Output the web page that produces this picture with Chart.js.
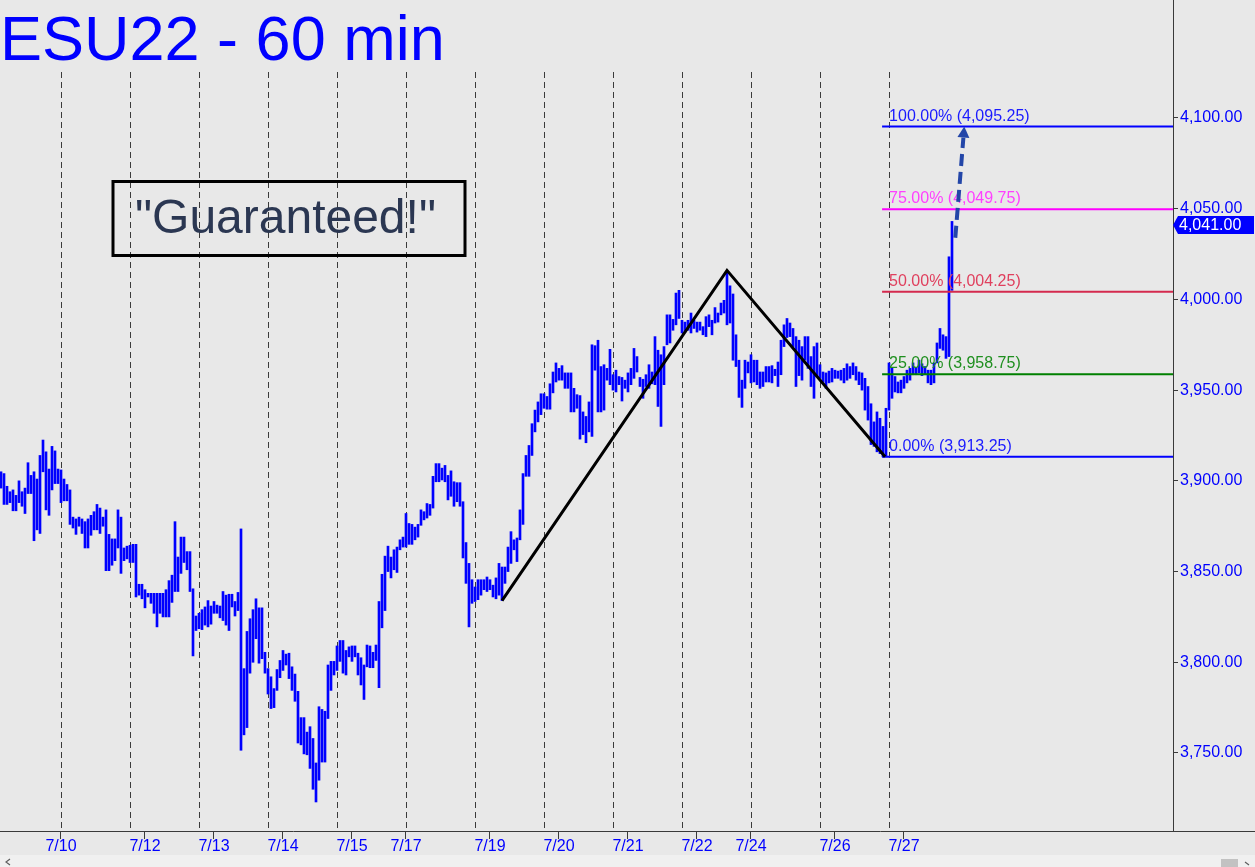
<!DOCTYPE html>
<html>
<head>
<meta charset="utf-8">
<script src="https://cdn.jsdelivr.net/npm/chart.js@4.4.1/dist/chart.umd.min.js"></script>
<style>
  html, body { margin: 0; padding: 0; background: #e8e8e8; }
  canvas { display: block; }
</style>
</head>
<body>
<canvas id="esChart" width="1255" height="867"></canvas>
<script>
// hourly bar highs / lows, one entry per bar (index = bar number)
const highs = [
  3905, 3904, 3897, 3894, 3895, 3892, 3900, 3894, 3896, 3910,
  3903, 3905, 3901, 3914, 3922.5, 3916, 3906.5, 3919, 3916.5, 3906.5,
  3906, 3901, 3898, 3895, 3880, 3879, 3880, 3879, 3877.5, 3879,
  3881, 3883, 3887, 3885, 3880, 3884, 3870.5, 3868, 3868, 3884,
  3880, 3863, 3864, 3864.5, 3865, 3865, 3843, 3843, 3840, 3838,
  3838, 3838, 3838, 3838, 3838, 3840, 3845, 3848, 3877.5, 3858,
  3869, 3869, 3861, 3861, 3840.5, 3825.5, 3827, 3829, 3830.5, 3834,
  3831, 3833.5, 3831.5, 3831, 3839, 3837, 3837.5, 3837.5, 3833.5, 3838.5,
  3873.5, 3796.5, 3817, 3824, 3829, 3835, 3830, 3830, 3805.5, 3796.5,
  3792, 3785.5, 3796, 3801, 3806.5, 3804.5, 3805, 3797.5, 3793.5, 3784,
  3769.5, 3769.5, 3761.5, 3764.5, 3758, 3744.5, 3775.5, 3774, 3773, 3798.5,
  3800.5, 3800.5, 3809, 3812, 3812, 3806.5, 3808.5, 3809, 3809, 3805,
  3802.5, 3798.5, 3809.5, 3809, 3805.5, 3809.5, 3833.5, 3848.5, 3858.5, 3864,
  3858, 3862, 3863.5, 3867.5, 3869, 3882, 3876.5, 3876, 3874.5, 3876,
  3884, 3883, 3887.5, 3887, 3902.5, 3909.5, 3909.5, 3907, 3908.5, 3903,
  3905.5, 3899.5, 3899, 3899, 3888.5, 3866, 3854.5, 3845.5, 3841.5, 3845.5,
  3845.5, 3845.5, 3847, 3845.5, 3842.5, 3846.5, 3854.5, 3852.5, 3852.5, 3863.5,
  3872, 3867.5, 3868.5, 3884, 3904, 3914, 3919.5, 3931.5, 3939, 3943.5,
  3948, 3948, 3946.5, 3953.5, 3960, 3965, 3962, 3963.5, 3959.5, 3959.5,
  3959.5, 3951, 3947.5, 3947, 3938, 3935.5, 3943.5, 3975, 3974.5, 3977.5,
  3963, 3964, 3962, 3972.5, 3958.5, 3961, 3957.5, 3957, 3955.5, 3959.5,
  3962, 3973, 3968.5, 3957, 3956, 3958.5, 3964, 3960, 3979.5, 3972,
  3969.5, 3974, 3991.5, 3991.5, 3989, 4003.5, 4005, 3988.5, 3987.5, 3988.5,
  3992.5, 3988.5, 3987.5, 3987.5, 3985, 3990.5, 3991.5, 3988.5, 3995.5, 3992.5,
  3998, 3999.5, 4014.5, 4007.5, 4003, 3980.5, 3966.5, 3955.5, 3966.5, 3965.5,
  3969.5, 3966.5, 3966.5, 3960, 3960, 3963, 3963, 3963.5, 3961.5, 3965.5,
  3977.5, 3986, 3989.5, 3987, 3984, 3979.5, 3977.5, 3974, 3979.5, 3979.5,
  3968.5, 3974, 3976, 3964, 3960, 3959.5, 3960.5, 3962, 3961, 3960.5,
  3961, 3962, 3964.5, 3963, 3965, 3963, 3960, 3959.5, 3956.5, 3952,
  3942.5, 3932.5, 3938, 3934.5, 3930, 3940, 3965, 3962.5, 3957.5, 3954.5,
  3955.5, 3957.5, 3961, 3962, 3965, 3962.5, 3966.5, 3964.5, 3963, 3961,
  3961, 3965, 3976, 3984, 3980.5, 3979.5, 4023.5, 4043
];
const lows = [
  3896, 3887, 3887, 3888, 3883.5, 3883.5, 3888, 3886, 3882, 3893,
  3893, 3867, 3873, 3871, 3905, 3884, 3881, 3895, 3898.5, 3898.5,
  3888, 3889, 3889, 3876, 3874, 3870.5, 3875, 3871, 3863, 3863,
  3870, 3873, 3873, 3871, 3875, 3850.5, 3850.5, 3853.5, 3856, 3863,
  3849, 3856, 3857, 3855, 3855, 3836, 3837, 3835, 3830, 3836,
  3832.5, 3827, 3819.5, 3827, 3825, 3825, 3825, 3833, 3839, 3839,
  3849, 3855, 3851, 3839, 3803.5, 3817.5, 3818.5, 3818, 3820.5, 3819.5,
  3821, 3827, 3827, 3824.5, 3823, 3820.5, 3817.5, 3830.5, 3825.5, 3828.5,
  3751.5, 3760, 3764, 3794, 3800, 3813, 3799.5, 3802, 3794, 3782.5,
  3774.5, 3775, 3784.5, 3791.5, 3795.5, 3798.5, 3791, 3784.5, 3778.5, 3755.5,
  3754.5, 3749.5, 3749, 3741.5, 3730, 3723, 3735, 3745, 3745, 3769,
  3784.5, 3793, 3795.5, 3800.5, 3794, 3793, 3803, 3800.5, 3803, 3793,
  3787.5, 3779.5, 3797.5, 3797, 3797, 3801, 3786, 3819, 3828.5, 3850,
  3846.5, 3851, 3849.5, 3862, 3863.5, 3863.5, 3865, 3865, 3867.5, 3869,
  3875.5, 3878.5, 3879.5, 3881, 3885, 3899.5, 3899.5, 3900.5, 3899.5, 3889.5,
  3891.5, 3886, 3888.5, 3886, 3857.5, 3843.5, 3819.5, 3832.5, 3833.5, 3834.5,
  3837, 3840, 3839, 3840, 3836, 3835, 3837, 3834, 3843.5, 3850,
  3854.5, 3862, 3855.5, 3867.5, 3876, 3902.5, 3902.5, 3914, 3927, 3932.5,
  3936.5, 3940, 3939.5, 3939.5, 3948.5, 3954.5, 3955.5, 3955.5, 3951, 3951,
  3938, 3938, 3940, 3923, 3925.5, 3921, 3927, 3924.5, 3961, 3938,
  3938, 3939, 3955.5, 3953, 3950, 3949, 3953, 3944, 3951, 3949,
  3953, 3956.5, 3960, 3952, 3945.5, 3952, 3951, 3953.5, 3953, 3941,
  3930, 3953, 3975, 3976, 3983, 3986, 3989.5, 3981.5, 3982, 3983,
  3981.5, 3984, 3982, 3983, 3980.5, 3979.5, 3985, 3980.5, 3987, 3987.5,
  3991.5, 3992.5, 3986, 3987, 3966.5, 3963, 3946, 3940.5, 3951, 3959.5,
  3954, 3954.5, 3953, 3951, 3952, 3954.5, 3954.5, 3954, 3958, 3952,
  3958.5, 3974, 3979, 3979.5, 3974, 3952, 3958, 3955.5, 3966.5, 3962,
  3952, 3945.5, 3957.5, 3956.5, 3954.5, 3951, 3954, 3954.5, 3956.5, 3956.5,
  3955.5, 3954, 3955.5, 3956.5, 3958.5, 3955.5, 3953, 3950, 3939, 3933.5,
  3920, 3919, 3916, 3915, 3913.25, 3913.5, 3939, 3945.5, 3949, 3948.5,
  3948.5, 3951, 3954, 3955.5, 3958.5, 3958.5, 3959.5, 3958, 3958.5, 3954,
  3953, 3954, 3965, 3973, 3972, 3967.5, 3968.5, 4005
];

// session separators and date labels (bar numbers)
const dayLines = [20, 43, 66, 89, 112, 135, 158, 181, 204, 227, 250, 273, 296];
const dateTicks = [20, 48, 71, 94, 117, 135, 163, 186, 209, 232, 250, 278, 301];
const dateLabels = ["7/10", "7/12", "7/13", "7/14", "7/15", "7/17", "7/19", "7/20", "7/21", "7/22", "7/24", "7/26", "7/27"];
const priceTicks = [3750, 3800, 3850, 3900, 3950, 4000, 4050, 4100];

// fibonacci levels
const fibPct = ["0.00%", "25.00%", "50.00%", "75.00%", "100.00%"];
const fibPrice = [3913.25, 3958.75, 4004.25, 4049.75, 4095.25];

// ABC swing line and projected arrow
const swingBar = [167, 242, 294.7];
const swingPrice = [3834, 4016, 3913.25];
const arrowBar = [318.1, 321.1];
const arrowPrice = [4034, 4095.25];
const lastPrice = 4041;

const BLUE = "#0000ff";
const fibLineColors = ["#0000ff", "#008000", "#d42a4e", "#ff00ff", "#0000ff"];
const fibTextColors = ["#1a1aff", "#1f8f1f", "#e0405e", "#ff40ff", "#1a1aff"];
const FONT = "Liberation Sans, Arial, sans-serif";
const X_MIN = -1 / 3, X_MAX = 390.67, FIB_START = 293.7;

function fmt(v) {
  return v.toLocaleString("en-US", { minimumFractionDigits: 2, maximumFractionDigits: 2 });
}

const decor = {
  id: "decor",
  beforeDraw(chart) {
    const ctx = chart.ctx;
    ctx.save();
    ctx.fillStyle = "#e8e8e8";
    ctx.fillRect(0, 0, chart.width, chart.height);
    ctx.restore();
  },
  beforeDatasetsDraw(chart) {
    const ctx = chart.ctx, xs = chart.scales.x, area = chart.chartArea;
    ctx.save();
    ctx.strokeStyle = "#3a3a3a";
    ctx.lineWidth = 1;
    ctx.setLineDash([6, 4]);
    dayLines.forEach(d => {
      const px = Math.round(xs.getPixelForValue(d)) + 0.5;
      ctx.beginPath();
      ctx.moveTo(px, 72);
      ctx.lineTo(px, area.bottom);
      ctx.stroke();
    });
    ctx.restore();
  },
  afterDatasetsDraw(chart) {
    const ctx = chart.ctx, xs = chart.scales.x, ys = chart.scales.y;
    ctx.save();
    // fib labels
    ctx.font = "16px " + FONT;
    ctx.textBaseline = "alphabetic";
    ctx.textAlign = "left";
    const fx = xs.getPixelForValue(FIB_START) + 7;
    fibPrice.forEach((p, i) => {
      ctx.fillStyle = fibTextColors[i];
      ctx.fillText(fibPct[i] + " (" + fmt(p) + ")", fx, ys.getPixelForValue(p) - 6);
    });

    // dashed projection arrow
    const x0 = xs.getPixelForValue(arrowBar[0]), y0 = ys.getPixelForValue(arrowPrice[0]);
    const x1 = xs.getPixelForValue(arrowBar[1]), y1 = ys.getPixelForValue(arrowPrice[1]);
    const len = Math.hypot(x1 - x0, y1 - y0), ux = (x1 - x0) / len, uy = (y1 - y0) / len;
    const bx = x1 - ux * 11, by = y1 - uy * 11;
    ctx.strokeStyle = "#2346a8";
    ctx.fillStyle = "#2346a8";
    ctx.lineWidth = 4;
    ctx.setLineDash([12, 6]);
    ctx.beginPath();
    ctx.moveTo(x0, y0);
    ctx.lineTo(bx, by);
    ctx.stroke();
    ctx.setLineDash([]);
    ctx.beginPath();
    ctx.moveTo(x1, y1);
    ctx.lineTo(bx - uy * 6, by + ux * 6);
    ctx.lineTo(bx + uy * 6, by - ux * 6);
    ctx.closePath();
    ctx.fill();
    ctx.restore();
  },
  afterDraw(chart) {
    const ctx = chart.ctx, ys = chart.scales.y, area = chart.chartArea;
    ctx.save();
    // title
    ctx.fillStyle = BLUE;
    ctx.font = "63px " + FONT;
    ctx.textAlign = "left";
    ctx.textBaseline = "alphabetic";
    ctx.fillText("ESU22 - 60 min", 0, 60);

    // comment box
    ctx.strokeStyle = "#000";
    ctx.lineWidth = 3;
    ctx.strokeRect(113, 181.5, 352, 74);
    ctx.fillStyle = "#2b3752";
    ctx.font = "48px " + FONT;
    ctx.fillText("\"Guaranteed!\"", 135, 233);

    // bottom axis line across full width
    ctx.strokeStyle = "#3a3a3a";
    ctx.lineWidth = 1;
    ctx.beginPath();
    ctx.moveTo(area.right, Math.round(area.bottom) + 0.5);
    ctx.lineTo(chart.width, Math.round(area.bottom) + 0.5);
    ctx.stroke();

    // last price tag
    const ty = ys.getPixelForValue(lastPrice);
    ctx.fillStyle = BLUE;
    ctx.beginPath();
    ctx.moveTo(area.right, ty);
    ctx.lineTo(area.right + 5, ty - 9);
    ctx.lineTo(chart.width - 1, ty - 9);
    ctx.lineTo(chart.width - 1, ty + 9);
    ctx.lineTo(area.right + 5, ty + 9);
    ctx.closePath();
    ctx.fill();
    ctx.fillStyle = "#ffffff";
    ctx.font = "16px " + FONT;
    ctx.textBaseline = "middle";
    ctx.fillText(fmt(lastPrice), area.right + 6, ty + 1);

    // scroll bar strip
    ctx.fillStyle = "#f0f0f0";
    ctx.fillRect(0, 855, chart.width, 12);
    ctx.fillStyle = "#c2c2c2";
    ctx.fillRect(1221, 859, 17, 8);
    ctx.strokeStyle = "#606060";
    ctx.lineWidth = 1.2;
    ctx.beginPath();
    ctx.moveTo(10, 859); ctx.lineTo(6, 862); ctx.lineTo(10, 865);
    ctx.moveTo(1245, 862); ctx.lineTo(1249, 865);
    ctx.stroke();
    ctx.restore();
  }
};

new Chart(document.getElementById("esChart"), {
  data: {
    datasets: [
      {
        type: "line",
        data: swingBar.map((b, i) => ({ x: b, y: swingPrice[i] })),
        borderColor: "#000000",
        borderWidth: 3,
        pointRadius: 0,
        order: 1
      },
      ...fibPrice.map((p, i) => ({
        type: "line",
        data: [{ x: FIB_START, y: p }, { x: X_MAX, y: p }],
        borderColor: fibLineColors[i],
        borderWidth: 2,
        pointRadius: 0,
        order: 5
      })),
      {
        type: "bar",
        data: highs.map((h, i) => ({ x: i, y: [lows[i], h] })),
        backgroundColor: BLUE,
        borderWidth: 0,
        barThickness: 2,
        order: 10
      }
    ]
  },
  options: {
    responsive: false,
    animation: false,
    devicePixelRatio: 1,
    layout: { padding: 0 },
    plugins: {
      legend: { display: false },
      tooltip: { enabled: false }
    },
    scales: {
      x: {
        type: "linear",
        position: "bottom",
        offset: false,
        min: X_MIN,
        max: X_MAX,
        afterBuildTicks: s => { s.ticks = dateTicks.map(v => ({ value: v })); },
        afterFit: s => { s.height = 36; s.paddingLeft = 0; s.paddingRight = 0; },
        grid: { display: true, offset: false, drawOnChartArea: false, drawTicks: true, tickLength: 8, color: "#3a3a3a" },
        border: { display: true, color: "#3a3a3a" },
        ticks: {
          autoSkip: false,
          maxRotation: 0,
          padding: -2,
          color: BLUE,
          font: { family: FONT, size: 16 },
          callback: v => dateLabels[dateTicks.indexOf(v)]
        }
      },
      y: {
        type: "linear",
        position: "right",
        min: 3707,
        max: 4165.04,
        afterBuildTicks: s => { s.ticks = priceTicks.map(v => ({ value: v })); },
        afterFit: s => { s.width = 82; s.paddingTop = 0; s.paddingBottom = 0; },
        grid: { display: true, drawOnChartArea: false, drawTicks: true, tickLength: 5, color: "#3a3a3a" },
        border: { display: true, color: "#3a3a3a" },
        ticks: {
          padding: 2,
          color: BLUE,
          font: { family: FONT, size: 16 },
          callback: v => fmt(v)
        }
      }
    }
  },
  plugins: [decor]
});
</script>
</body>
</html>
